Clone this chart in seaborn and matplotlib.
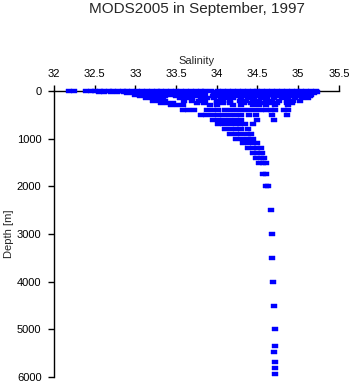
import numpy as np
import pandas as pd
import matplotlib
matplotlib.use("Agg")
import matplotlib.pyplot as plt
import seaborn as sns

# salinity readings at each standard depth level (m)
sal_0 = [32.19, 32.24, 32.39, 32.45, 32.5, 32.56, 32.62, 32.68, 32.73, 32.79, 32.85, 32.9,
         32.96, 33.02, 33.08, 33.14, 33.2, 33.26, 33.32, 33.38, 33.44, 33.5, 33.56, 33.62,
         33.68, 33.74, 33.8, 33.86, 33.93, 34.02, 34.08, 34.14, 34.2, 34.26, 34.32, 34.38,
         34.44, 34.5, 34.56, 34.62, 34.68, 34.74, 34.8, 34.86, 34.92, 34.98, 35.04, 35.1,
         35.16, 35.22]
sal_20 = [32.55, 32.62, 32.7, 32.78, 32.86, 32.93, 33.0, 33.07, 33.14, 33.2, 33.27, 33.34,
          33.41, 33.48, 33.55, 33.63, 33.7, 33.77, 33.84, 33.97, 34.05, 34.12, 34.19, 34.26,
          34.33, 34.4, 34.47, 34.54, 34.61, 34.68, 34.75, 34.82, 34.89, 34.96, 35.03, 35.1,
          35.17, 35.23]
sal_50 = [32.9, 32.97, 33.04, 33.11, 33.18, 33.25, 33.32, 33.39, 33.46, 33.53, 33.6, 33.68,
          33.75, 33.83, 33.98, 34.05, 34.12, 34.19, 34.26, 34.33, 34.41, 34.48, 34.56, 34.63,
          34.7, 34.77, 34.84, 34.91, 34.98, 35.05, 35.12, 35.19]
sal_75 = [33.0, 33.07, 33.14, 33.22, 33.3, 33.38, 33.45, 33.52, 33.6, 33.68, 33.76, 33.86,
          33.96, 34.03, 34.1, 34.17, 34.24, 34.31, 34.38, 34.45, 34.53, 34.6, 34.67, 34.74,
          34.81, 34.88, 34.95, 35.02, 35.09, 35.16]
sal_100 = [33.06, 33.13, 33.2, 33.28, 33.36, 33.5, 33.58, 33.66, 33.74, 33.83, 33.95, 34.02,
           34.09, 34.16, 34.24, 34.32, 34.4, 34.47, 34.55, 34.62, 34.7, 34.78, 34.86, 34.93,
           35.0, 35.08, 35.15]
sal_150 = [33.13, 33.2, 33.27, 33.34, 33.55, 33.62, 33.7, 33.8, 33.88, 33.97, 34.05, 34.12,
           34.2, 34.3, 34.38, 34.46, 34.54, 34.62, 34.7, 34.8, 34.88, 34.96, 35.05, 35.12]
sal_200 = [33.22, 33.29, 33.36, 33.6, 33.7, 33.78, 33.86, 34.0, 34.08, 34.16, 34.28, 34.36,
           34.44, 34.52, 34.6, 34.68, 34.76, 34.86, 34.94, 35.02]
sal_250 = [33.32, 33.39, 33.46, 33.76, 33.84, 34.0, 34.08, 34.16, 34.34, 34.42, 34.5, 34.58,
           34.66, 34.74, 34.86, 34.92]
sal_300 = [33.44, 33.51, 33.58, 33.92, 34.0, 34.2, 34.3, 34.45, 34.52, 34.6, 34.72, 34.88]
sal_400 = [33.58, 33.65, 33.72, 33.88, 33.95, 34.02, 34.1, 34.17, 34.25, 34.32, 34.4, 34.47,
           34.54, 34.6, 34.66, 34.72, 34.82, 34.88]
sal_500 = [33.8, 33.87, 33.94, 34.01, 34.08, 34.15, 34.22, 34.3, 34.4, 34.48, 34.68, 34.86]
sal_600 = [33.95, 34.02, 34.09, 34.16, 34.23, 34.3, 34.5, 34.7]
sal_700 = [34.02, 34.08, 34.15, 34.22, 34.29, 34.35, 34.45]
sal_800 = [34.1, 34.17, 34.24, 34.3, 34.38]
sal_900 = [34.16, 34.23, 34.3, 34.37, 34.42]
sal_1000 = [34.24, 34.31, 34.38, 34.45]
sal_1100 = [34.32, 34.38, 34.45, 34.5]
sal_1200 = [34.38, 34.44, 34.5, 34.54]
sal_1300 = [34.44, 34.5, 34.55]
sal_1400 = [34.48, 34.54, 34.58]
sal_1500 = [34.52, 34.57, 34.6]
sal_1750 = [34.57, 34.61]
sal_2000 = [34.6, 34.63]

# deep single readings
deep_depth = [2500, 3000, 3500, 4000, 4500, 5000, 5350, 5470, 5680, 5800, 5930]
deep_sal = [34.66, 34.68, 34.68, 34.69, 34.70, 34.71, 34.71, 34.70, 34.71, 34.71, 34.71]

levels = {0: sal_0, 20: sal_20, 50: sal_50, 75: sal_75, 100: sal_100, 150: sal_150,
          200: sal_200, 250: sal_250, 300: sal_300, 400: sal_400, 500: sal_500,
          600: sal_600, 700: sal_700, 800: sal_800, 900: sal_900, 1000: sal_1000,
          1100: sal_1100, 1200: sal_1200, 1300: sal_1300, 1400: sal_1400,
          1500: sal_1500, 1750: sal_1750, 2000: sal_2000}

depth, sal = [], []
for d, vals in levels.items():
    depth += [d] * len(vals)
    sal += vals
depth += deep_depth
sal += deep_sal
df = pd.DataFrame({"Salinity": sal, "Depth": depth})

sns.set_style("white")
plt.rcParams['font.family'] = ['Liberation Sans', 'DejaVu Sans']

fig = plt.figure(figsize=(3.53, 3.84), dpi=100)
ax = fig.add_axes([0.153, 0.018, 0.807, 0.745])

dash = [(-1, -0.65), (1, -0.65), (1, 0.65), (-1, 0.65), (-1, -0.65)]
sns.scatterplot(data=df, x="Salinity", y="Depth", marker=dash, s=17, color="#0000ff",
                edgecolor="#0000ff", linewidth=0.3, ax=ax, legend=False, clip_on=False,
                zorder=3)

ax.set_xlim(32, 35.5)
ax.set_ylim(6000, 0)
ax.xaxis.tick_top()
ax.xaxis.set_label_position("top")
xt = [32, 32.5, 33, 33.5, 34, 34.5, 35, 35.5]
ax.set_xticks(xt)
ax.set_xticklabels([f"{v:g}" for v in xt])
ax.set_yticks(range(0, 6001, 1000))
ax.tick_params(axis="both", direction="out", length=4, width=1, pad=5,
               labelsize=8, color="black", labelcolor="black")
ax.tick_params(axis="x", top=True, bottom=False)
ax.tick_params(axis="y", left=True)
for side in ["right", "bottom"]:
    ax.spines[side].set_visible(False)
for side in ["top", "left"]:
    ax.spines[side].set_color("black")
    ax.spines[side].set_linewidth(1)
    ax.spines[side].set_zorder(2)

ax.set_xlabel("Salinity", fontsize=8, labelpad=3)
ax.set_ylabel("Depth [m]", fontsize=8, labelpad=2)
fig.text(0.557, 0.967, "MODS2005 in September, 1997", fontsize=11, ha="center", va="baseline")

fig.savefig("out.png", dpi=100)
